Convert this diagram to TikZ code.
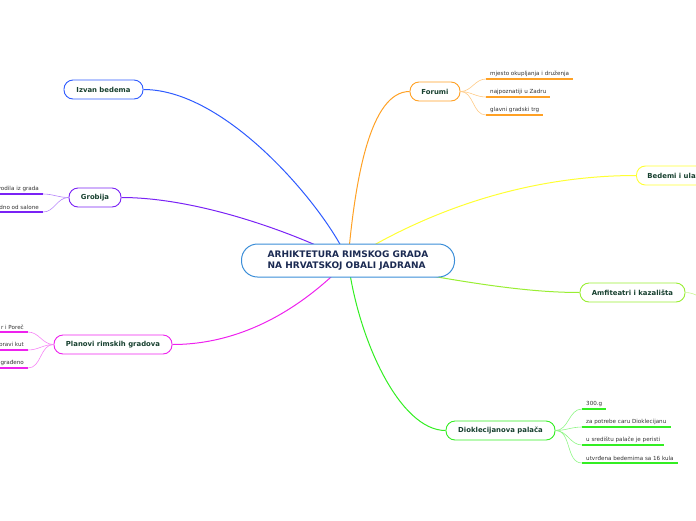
\documentclass[tikz,border=0pt]{standalone}
\usepackage{fontspec}
\setmainfont{DejaVu Sans}
\usepackage{xcolor}
\usetikzlibrary{backgrounds}

\definecolor{rootline}{HTML}{3B8ED8}
\definecolor{roottext}{HTML}{1B2A52}
\definecolor{topictext}{HTML}{17402F}
\definecolor{leaftext}{HTML}{333333}
\definecolor{izvanc}{HTML}{2E5BFF}
\definecolor{grobc}{HTML}{7A22F5}
\definecolor{planc}{HTML}{EE22EE}
\definecolor{forumc}{HTML}{FFA125}
\definecolor{bedemc}{HTML}{FFFF33}
\definecolor{amfc}{HTML}{99EE33}
\definecolor{dioklc}{HTML}{33EE22}

\tikzset{
  root/.style={draw=rootline, line width=1pt, rounded corners=16pt, fill=white,
    minimum width=213pt, minimum height=33pt, align=left, text=roottext,
    font=\bfseries\fontsize{9}{11}\selectfont},
  topic/.style={draw=#1, line width=0.9pt, rounded corners=9pt, fill=white,
    minimum height=19pt, text=topictext, font=\bfseries\fontsize{6.9}{8}\selectfont},
  leaf/.style={inner xsep=4pt, inner ysep=2pt, text=leaftext,
    font=\fontsize{5.6}{6.5}\selectfont},
  underline/.style={draw=#1, line width=1.2pt},
  branch/.style={draw=#1, line width=1pt},
  twig/.style={draw=#1!55, line width=0.6pt}
}

\begin{document}
\begin{tikzpicture}[x=1pt,y=-1pt]
\useasboundingbox (0,0) rectangle (696,520);

% central topic
\node[root] (root) at (348,260.5) {ARHIKTETURA RIMSKOG GRADA\\NA HRVATSKOJ OBALI JADRANA};

% main topics
\node[topic=izvanc, minimum width=79pt] (izvan) at (103.5,89.5) {Izvan bedema};
\node[topic=grobc, minimum width=52pt] (grob) at (95,197.5) {Grobija};
\node[topic=planc, minimum width=118pt] (plan) at (113,344.5) {Planovi rimskih gradova};
\node[topic=forumc, minimum width=50pt] (forum) at (435,91.5) {Forumi};
\node[topic=bedemc, anchor=west, inner xsep=11pt] (bedem) at (636,175.5) {Bedemi i ulazi};
\node[topic=amfc, minimum width=105pt] (amf) at (632.5,292.5) {Amfiteatri i kazališta};
\node[topic=dioklc, minimum width=109pt] (diokl) at (500.5,430.5) {Dioklecijanova palača};

% subtopics
\node[leaf, anchor=south west] (f1) at (486,79) {mjesto okupljanja i druženja};
\node[leaf, anchor=south west] (f2) at (486,97) {najpoznatiji u Zadru};
\node[leaf, anchor=south west] (f3) at (486,115) {glavni gradski trg};

\node[leaf, anchor=south west] (d1) at (582,409) {300.g};
\node[leaf, anchor=south west] (d2) at (582,427) {za potrebe caru Dioklecijanu};
\node[leaf, anchor=south west] (d3) at (582,445) {u središtu palače je peristi};
\node[leaf, anchor=south west] (d4) at (582,463) {utvrđena bedemima sa 16 kula};

\node[leaf, anchor=south east] (g1) at (43,194) {vodila iz grada};
\node[leaf, anchor=south east] (g2) at (43,212) {dno od salone};

\node[leaf, anchor=south east] (p1) at (28,332) {r i Poreč};
\node[leaf, anchor=south east] (p2) at (28,350) {pravi kut};
\node[leaf, anchor=south east] (p3) at (28,368) {građeno};

\coordinate (amfout) at (712,300);

\begin{pgfonlayer}{background}
% branches from the centre
\draw[branch=izvanc] (root.center) .. controls (330,215) and (230,89.5) .. (izvan.east);
\draw[branch=grobc] (root.center) .. controls (300,235) and (200,197.5) .. (grob.east);
\draw[branch=planc] (root.center) .. controls (310,300) and (250,344.5) .. (plan.east);
\draw[branch=forumc] (root.center) .. controls (355,180) and (370,91.5) .. (forum.west);
\draw[branch=bedemc] (root.center) .. controls (420,215) and (520,175.5) .. (bedem.west);
\draw[branch=amfc] (root.center) .. controls (450,280) and (520,292.5) .. (amf.west);
\draw[branch=dioklc] (root.center) .. controls (358,340) and (400,430.5) .. (diokl.west);
\end{pgfonlayer}

% underlines and twigs
\foreach \n in {f1,f2,f3} {
  \draw[underline=forumc] (\n.south west) -- (\n.south east);
  \draw[twig=forumc] (forum.east) to[out=0,in=180] (\n.south west);
}
\foreach \n in {d1,d2,d3,d4} {
  \draw[underline=dioklc] (\n.south west) -- (\n.south east);
  \draw[twig=dioklc] (diokl.east) to[out=0,in=180] (\n.south west);
}
\foreach \n in {g1,g2} {
  \draw[underline=grobc] (\n.south west) -- (\n.south east);
  \draw[twig=grobc] (grob.west) to[out=180,in=0] (\n.south east);
}
\foreach \n in {p1,p2,p3} {
  \draw[underline=planc] (\n.south west) -- (\n.south east);
  \draw[twig=planc] (plan.west) to[out=180,in=0] (\n.south east);
}
\draw[twig=amfc] (amf.east) to[out=0,in=180] (amfout);
\end{tikzpicture}
\end{document}
